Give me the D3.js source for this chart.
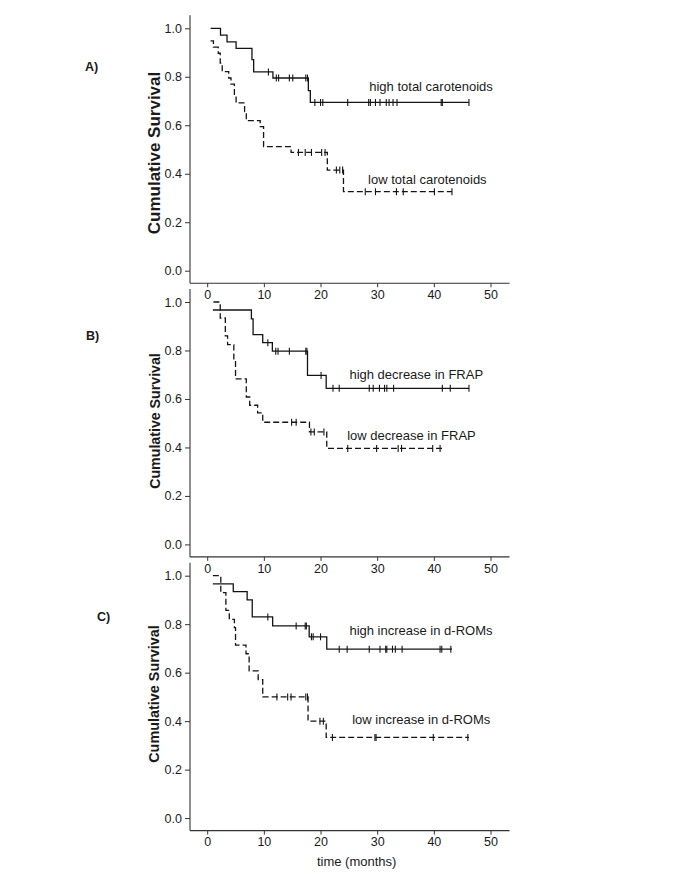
<!DOCTYPE html>
<html>
<head>
<meta charset="utf-8">
<script src="https://cdn.jsdelivr.net/npm/d3@7"></script>
<style>
  html, body { margin: 0; padding: 0; background: #fff; }
  svg { display: block; }
  text { font-family: "Liberation Sans", Arial, sans-serif; fill: #1a1a1a; }
</style>
</head>
<body>
<svg id="chart" width="685" height="886"></svg>
<script>
// ---------------- DATA ----------------
// Step curves: [time (months), survival from that time on]; last value holds until the end time
const xTicks = [0, 10, 20, 30, 40, 50];
const yTicks = [0.0, 0.2, 0.4, 0.6, 0.8, 1.0];
const panelLetters = ["A)", "B)", "C)"];
const seriesNames = [
  ["high total carotenoids", "low total carotenoids"],
  ["high decrease in FRAP", "low decrease in FRAP"],
  ["high increase in d-ROMs", "low increase in d-ROMs"]
];

// Panel A
const aHighSteps = [[0.6,1.0],[2.35,0.972],[3.5,0.944],[5.1,0.917],[7.9,0.871],[8.2,0.82],[11.6,0.795],[17.85,0.743],[18.2,0.694]];
const aHighEnd = 46.2;
const aHighCensor = [10.8,12.2,12.6,14.5,15.1,17.4,17.7,19.0,20.0,20.4,24.8,28.5,28.8,29.7,30.5,31.6,32.1,32.8,33.5,41.3,41.5,46.2];
const aLowSteps = [[0.6,0.948],[1.1,0.922],[1.95,0.897],[2.3,0.856],[2.65,0.821],[3.8,0.795],[4.2,0.77],[4.8,0.72],[5.1,0.692],[6.6,0.656],[6.9,0.619],[9.35,0.594],[9.95,0.512],[14.8,0.488],[21.2,0.415],[24.05,0.326]];
const aLowEnd = 43.2;
const aLowCensor = [16.1,17.3,18.4,20.2,20.8,22.8,23.4,23.9,27.9,29.7,33.4,34.6,40.1,43.2];

// Panel B
const bHighSteps = [[1.0,0.967],[7.8,0.93],[8.1,0.865],[9.8,0.832],[11.5,0.797],[17.7,0.697],[21.0,0.644]];
const bHighEnd = 46.2;
const bHighCensor = [10.7,12.1,12.5,14.5,17.4,17.6,20.1,22.2,23.3,28.6,29.3,30.4,31.3,31.7,32.9,41.5,42.9,46.2];
const bLowSteps = [[1.1,1.0],[2.3,0.934],[3.2,0.86],[3.6,0.824],[4.7,0.762],[5.0,0.683],[6.9,0.608],[7.5,0.574],[8.9,0.543],[9.8,0.504],[18.05,0.464],[21.1,0.396]];
const bLowEnd = 41.5;
const bLowCensor = [14.9,15.7,18.3,18.9,20.6,24.8,29.9,33.7,34.3,39.8,41.1];

// Panel C
const cHighSteps = [[1.0,0.966],[4.6,0.934],[7.05,0.9],[7.95,0.83],[11.55,0.793],[18.0,0.748],[21.1,0.697]];
const cHighEnd = 43.2;
const cHighCensor = [10.7,15.7,17.3,17.5,18.4,18.7,20.0,23.3,24.7,28.6,30.5,31.5,31.7,32.7,33.2,34.4,41.1,41.4,43.0];
const cLowSteps = [[1.0,1.0],[2.4,0.93],[3.3,0.857],[3.9,0.82],[4.8,0.786],[5.0,0.714],[6.85,0.678],[7.4,0.607],[9.0,0.571],[9.8,0.5],[17.8,0.4],[21.0,0.333]];
const cLowEnd = 46.2;
const cLowCensor = [12.3,14.2,14.8,17.4,17.7,19.9,20.5,22.1,29.6,29.8,39.9,46.0];

// Label anchors (time, survival) for the curve labels
const labelAnchors = [
  [[28.6,0.759],[28.4,0.378]],
  [[25.1,0.702],[24.7,0.448]],
  [[25.1,0.773],[25.6,0.408]]
];

// ---------------- LAYOUT ----------------
const panels = [
  { high: {steps:aHighSteps, end:aHighEnd, censor:aHighCensor}, low: {steps:aLowSteps, end:aLowEnd, censor:aLowCensor},
    y0: 270.7, y1: 28.3, letterPos:[85,66.7], titleSize:17, titlePos:[154,153] },
  { high: {steps:bHighSteps, end:bHighEnd, censor:bHighCensor}, low: {steps:bLowSteps, end:bLowEnd, censor:bLowCensor},
    y0: 544.4, y1: 302.0, letterPos:[86,336], titleSize:14.2, titlePos:[155,421] },
  { high: {steps:cHighSteps, end:cHighEnd, censor:cHighCensor}, low: {steps:cLowSteps, end:cLowEnd, censor:cLowCensor},
    y0: 818.1, y1: 575.7, letterPos:[97,617], titleSize:14.4, titlePos:[153.5,694] }
];

const svg = d3.select("#chart");
const x = d3.scaleLinear().domain([0, 50]).range([207.2, 490.5]);
const axisLeftX = 190;
const axisRightX = 509.5;
const curveColor = "#141414";
const axisColor = "#333";

function valueAt(steps, t) {
  let v = steps[0][1];
  for (const s of steps) { if (s[0] <= t + 1e-9) v = s[1]; }
  return v;
}

panels.forEach((p, i) => {
  const y = d3.scaleLinear().domain([0, 1]).range([p.y0, p.y1]);
  const g = svg.append("g");
  const xAxisY = p.y0 + 12.5;
  const yAxisTop = p.y1 - 13;

  // axis lines
  g.append("line").attr("x1", axisLeftX).attr("x2", axisLeftX).attr("y1", yAxisTop).attr("y2", xAxisY)
    .attr("stroke", axisColor).attr("stroke-width", 1.1);
  g.append("line").attr("x1", axisLeftX).attr("x2", axisRightX).attr("y1", xAxisY).attr("y2", xAxisY)
    .attr("stroke", axisColor).attr("stroke-width", 1.1);

  // y axis ticks
  const yAxis = d3.axisLeft(y).tickValues(yTicks).tickFormat(d3.format(".1f")).tickSize(5).tickPadding(3);
  const ya = g.append("g").attr("transform", `translate(${axisLeftX},0)`).call(yAxis);
  ya.select(".domain").remove();
  ya.selectAll("line").attr("stroke", axisColor);
  ya.selectAll("text").style("font-size", "12.5px").attr("fill", "#1a1a1a")
    .style("font-family", '"Liberation Sans", Arial, sans-serif');

  // x axis ticks
  const xAxis = d3.axisBottom(x).tickValues(xTicks).tickFormat(d3.format("d")).tickSize(4).tickPadding(3);
  const xa = g.append("g").attr("transform", `translate(0,${xAxisY})`).call(xAxis);
  xa.select(".domain").remove();
  xa.selectAll("line").attr("stroke", axisColor);
  xa.selectAll("text").style("font-size", "12.5px").attr("fill", "#1a1a1a")
    .style("font-family", '"Liberation Sans", Arial, sans-serif');

  // y title
  g.append("text")
    .attr("transform", `translate(${p.titlePos[0]},${p.titlePos[1]}) rotate(-90)`)
    .attr("text-anchor", "middle").attr("dominant-baseline", "central")
    .style("font-size", p.titleSize + "px").style("font-weight", "bold")
    .text("Cumulative Survival");

  // panel letter
  g.append("text").attr("x", p.letterPos[0]).attr("y", p.letterPos[1])
    .attr("dominant-baseline", "central")
    .style("font-size", "12.5px").style("font-weight", "bold").text(panelLetters[i]);

  const line = d3.line().x(d => x(d[0])).y(d => y(d[1])).curve(d3.curveStepAfter);

  [["high", null], ["low", "6,3"]].forEach(([key, dash], k) => {
    const s = p[key];
    const pts = s.steps.concat([[s.end, s.steps[s.steps.length - 1][1]]]);
    const path = g.append("path").attr("d", line(pts)).attr("fill", "none")
      .attr("stroke", curveColor).attr("stroke-width", 1.3);
    if (dash) path.attr("stroke-dasharray", dash);

    g.selectAll(null).data(s.censor).enter().append("line")
      .attr("x1", d => x(d)).attr("x2", d => x(d))
      .attr("y1", d => y(valueAt(s.steps, d)) - 3.5)
      .attr("y2", d => y(valueAt(s.steps, d)) + 3.5)
      .attr("stroke", curveColor).attr("stroke-width", 1.1);

    const a = labelAnchors[i][k];
    g.append("text").attr("x", x(a[0])).attr("y", y(a[1]))
      .attr("dominant-baseline", "central")
      .style("font-size", "13px").text(seriesNames[i][k]);
  });
});

// x title
svg.append("text").attr("x", 356.7).attr("y", 861.7)
  .attr("text-anchor", "middle").attr("dominant-baseline", "central")
  .style("font-size", "13px").text("time (months)");
</script>
</body>
</html>
